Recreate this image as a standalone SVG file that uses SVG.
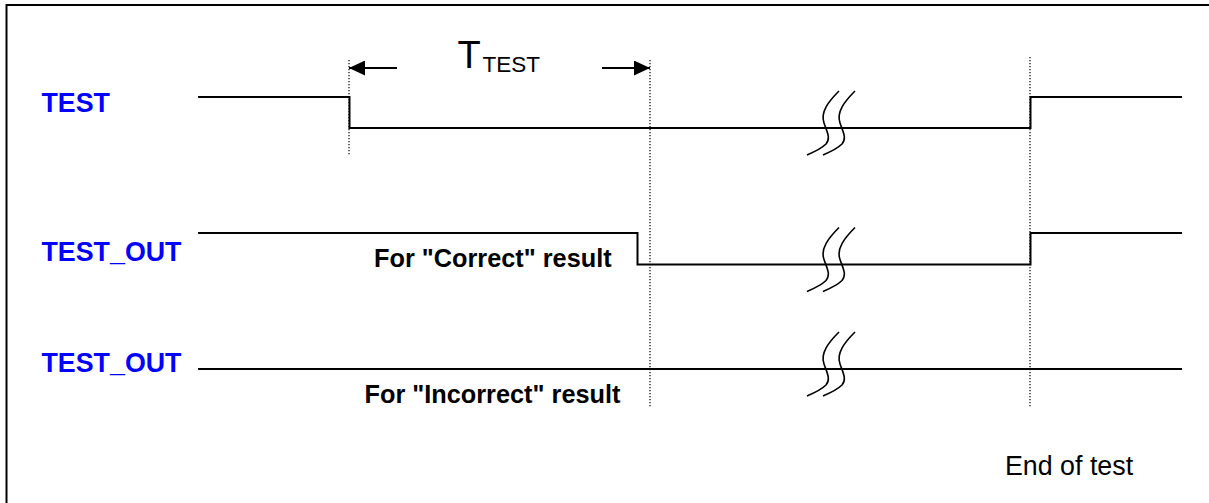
<svg xmlns="http://www.w3.org/2000/svg" width="1209" height="503" viewBox="0 0 1209 503">
<style>
.sig{fill:none;stroke:#000;stroke-width:2}
.dot{fill:none;stroke:#000;stroke-width:1.2;stroke-dasharray:1.2,1.8}
.brk{fill:none;stroke:#000;stroke-width:1.6}
.lbl{font-family:"Liberation Sans",Arial,sans-serif;font-weight:bold;font-size:26.8px;fill:#0000ff}
.note{font-family:"Liberation Sans",Arial,sans-serif;font-weight:bold;font-size:25.3px;fill:#000}
.plain{font-family:"Liberation Sans",Arial,sans-serif;fill:#000}
</style>
<defs>
<marker id="ah" markerWidth="16" markerHeight="15" refX="16" refY="7.5" orient="auto" markerUnits="userSpaceOnUse">
<path d="M0,0 L16,7.5 L0,15 Z" fill="#000"/>
</marker>
<path id="squig" d="M0,-37 C-10,-27 -19,-16 -15,-5 C-12,4 -8,10 -13,16 C-18,21 -25,24 -32,27"/>
</defs>
<rect x="0" y="0" width="1209" height="503" fill="#fff"/>
<rect x="6.5" y="5" width="1215" height="510" fill="none" stroke="#000" stroke-width="2"/>

<g id="label-test"><text class="lbl" x="41.5" y="111.5">TEST</text></g>
<g id="label-test-out-1"><text class="lbl" x="41.5" y="260.5">TEST_OUT</text></g>
<g id="label-test-out-2"><text class="lbl" x="41.5" y="371.5">TEST_OUT</text></g>

<g id="signal-test"><path class="sig" d="M198,97 H349.5 V128 H1030.5 V97 H1182"/></g>
<g id="signal-test-out-correct"><path class="sig" d="M198,233 H637.5 V264.5 H1030.5 V233 H1182"/></g>
<g id="signal-test-out-incorrect"><path class="sig" d="M198,369 H1182"/></g>

<g id="breaks">
<use href="#squig" class="brk" transform="translate(839,128)"/>
<use href="#squig" class="brk" transform="translate(855,128)"/>
<use href="#squig" class="brk" transform="translate(839,264.5)"/>
<use href="#squig" class="brk" transform="translate(855,264.5)"/>
<use href="#squig" class="brk" transform="translate(839,369)"/>
<use href="#squig" class="brk" transform="translate(855,369)"/>
</g>

<g id="connectors">
<path class="dot" d="M349,60 V155"/>
<path class="dot" d="M650,60 V407"/>
<path class="dot" d="M1030,57 V407"/>
<path class="sig" d="M397,68 H349" marker-end="url(#ah)"/>
<path class="sig" d="M602,68 H650" marker-end="url(#ah)"/>
</g>

<g id="ttest"><text class="plain" x="457.5" y="67.7" font-size="38">T</text><text class="plain" x="482.5" y="72.3" font-size="22.5">TEST</text></g>
<g id="note-correct"><text class="note" x="374" y="266.5">For "Correct" result</text></g>
<g id="note-incorrect"><text class="note" x="364.5" y="403.3">For "Incorrect" result</text></g>
<g id="end-of-test"><text class="plain" x="1005" y="475" font-size="26.8">End of test</text></g>
</svg>
